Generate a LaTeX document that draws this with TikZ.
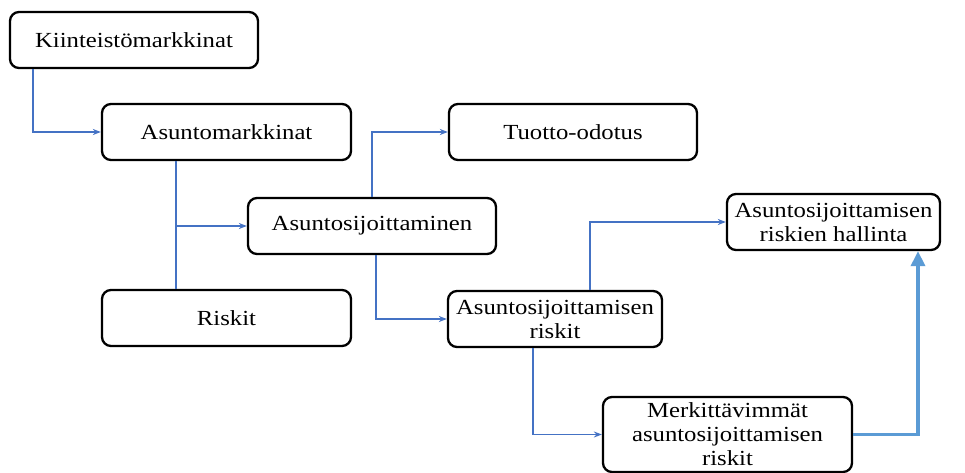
\documentclass[tikz,border=0pt]{standalone}
\usepackage{fontspec}
\setmainfont{Liberation Serif}[FakeStretch=1.15]
\usepackage{xcolor}
\usetikzlibrary{arrows.meta}

\definecolor{linkblue}{HTML}{4472C4}
\definecolor{boldblue}{HTML}{5B9BD5}

\begin{document}
\begin{tikzpicture}[
    x=1pt, y=-1pt,
    box/.style={rectangle, draw, line width=2.3pt, rounded corners=9pt, minimum width=248pt, minimum height=56pt, inner sep=2pt, align=center, font=\fontsize{21.5}{24}\selectfont},
    conn/.style={-{Stealth[length=8pt, width=6pt]}, linkblue, line width=1.4pt},
    bigconn/.style={-{Triangle[length=15pt, width=14pt]}, boldblue, line width=3.4pt}
]
    \useasboundingbox (0,0) rectangle (965,473);

    % Markets
    \node[box] (kiint) at (134,40) {Kiinteistömarkkinat};
    \node[box, minimum width=249pt] (asmark) at (226.5,132) {Asuntomarkkinat};
    \node[box, minimum width=249pt] (riskit) at (226.5,318) {Riskit};

    % Investing
    \node[box] (sijoit) at (372,226) {Asuntosijoittaminen};
    \node[box] (tuotto) at (573,132) {Tuotto-odotus};

    % Risks
    \node[box, minimum width=214pt] (sijriskit) at (555,319) {Asuntosijoittamisen\\riskit};
    \node[box, minimum width=213pt] (hallinta) at (833.5,222) {Asuntosijoittamisen\\riskien hallinta};
    \node[box, minimum width=249pt, minimum height=75pt] (merk) at (727.5,434.5) {Merkittävimmät\\asuntosijoittamisen\\riskit};

    % Arrows
    \draw[conn] ([xshift=-101pt]kiint.south) |- (asmark.west);
    \draw[linkblue, line width=1.4pt] ([xshift=-50.5pt]asmark.south) -- ([xshift=-50.5pt]riskit.north);
    \draw[conn] ([xshift=-50.5pt]asmark.south) |- (sijoit.west);
    \draw[conn] (sijoit.north) |- (tuotto.west);
    \draw[conn] ([xshift=4pt]sijoit.south) |- (sijriskit.west);
    \draw[conn] ([xshift=35pt]sijriskit.north) |- (hallinta.west);
    \draw[conn] ([xshift=-22pt]sijriskit.south) |- (merk.west);
    \draw[bigconn] (merk.east) -| ([xshift=84.5pt]hallinta.south);

\end{tikzpicture}
\end{document}
